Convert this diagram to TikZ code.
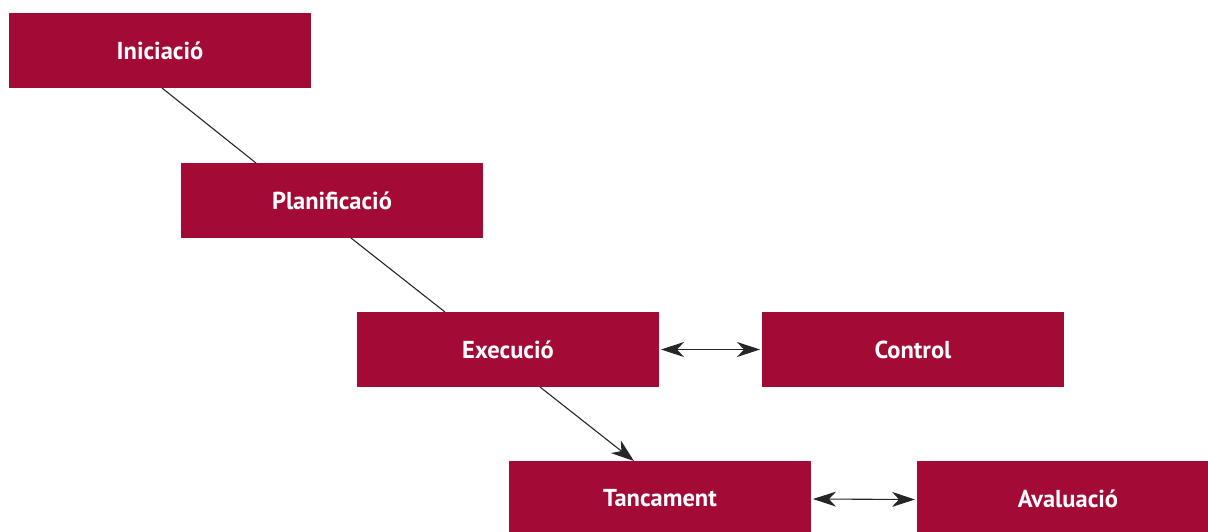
\documentclass[tikz,border=0pt]{standalone}
\usepackage{fontspec}
\setmainfont{PT Sans}
\usetikzlibrary{arrows.meta}
\definecolor{boxred}{HTML}{A30A35}
\begin{document}
\begin{tikzpicture}[x=1pt,y=-1pt,
  phase/.style={fill=boxred,text=white,font=\bfseries\fontsize{24.5}{26}\selectfont,
    minimum width=302pt,minimum height=75pt,inner sep=0pt,outer sep=0pt,draw=none},
  conn/.style={draw=black!85,line width=1.1pt},
  tip/.style={-{Stealth[length=23pt,width=16pt,inset=7pt]}},
  dtip/.style={{Stealth[length=23pt,width=15pt,inset=7pt]}-{Stealth[length=23pt,width=15pt,inset=7pt]}}]
\useasboundingbox (0,0) rectangle (1208,531);
\clip (0,0) rectangle (1208,531);
\node[phase] (ini) at (160,50.5) {Iniciació};
\node[phase] (pla) at (332,200.5) {Planificació};
\node[phase] (exe) at (508,349.5) {Execució};
\node[phase] (con) at (913,349.5) {Control};
\node[phase] (tan) at (660,498.5) {Tancament};
\node[phase] (ava) at (1068,498.5) {Avaluació};
\draw[conn] ([xshift=2pt]ini.south) -- ([xshift=75pt]pla.north west);
\draw[conn] ([xshift=19pt]pla.south) -- ([xshift=88pt]exe.north west);
\draw[conn,tip] ([xshift=32pt]exe.south) -- ([xshift=125pt]tan.north west);
\draw[conn,dtip] ([xshift=2pt]exe.east) -- ([xshift=-2pt]con.west);
\draw[conn,dtip] ([xshift=2pt,yshift=-0.5pt]tan.east) -- ([xshift=-2pt,yshift=-1pt]ava.west);
\end{tikzpicture}
\end{document}
